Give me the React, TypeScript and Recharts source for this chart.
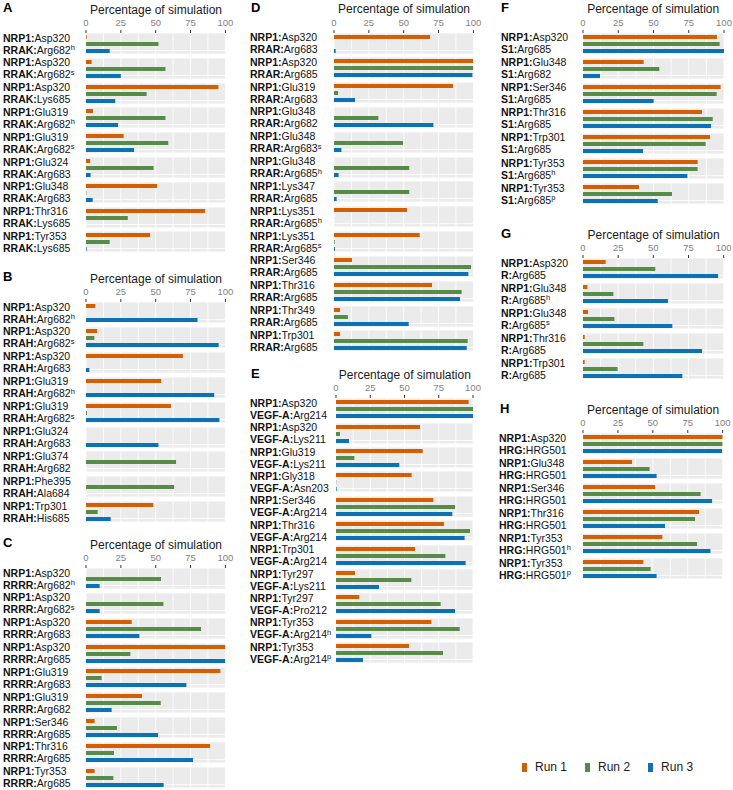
import React from 'react';
import { BarChart, Bar, Cell, XAxis, YAxis, CartesianGrid } from 'recharts';

const runNames = ['Run 1', 'Run 2', 'Run 3'];
const runColors = ['#d55e00', '#568c48', '#0b72b5'];
const axisTicks = [0, 25, 50, 75, 100];
const gridValues = [0, 12.5, 25, 37.5, 50, 62.5, 75, 87.5, 100];

// A: NRP1 - RRAK
const aNrp1 = ['Asp320', 'Asp320', 'Asp320', 'Glu319', 'Glu319', 'Glu324', 'Glu348', 'Thr316', 'Tyr353'];
const aPartner = ['Arg682^h', 'Arg682^s', 'Lys685', 'Arg682^h', 'Arg682^s', 'Arg683', 'Arg683', 'Lys685', 'Lys685'];
const aRun1 = [0.5, 4, 95, 5, 27, 3, 51, 85.5, 46];
const aRun2 = [52, 57, 43.5, 57, 59, 48.5, 0.3, 30, 17];
const aRun3 = [17, 25, 21, 23, 34.5, 3.3, 4.8, 0, 0.5];

// B: NRP1 - RRAH
const bNrp1 = ['Asp320', 'Asp320', 'Asp320', 'Glu319', 'Glu319', 'Glu324', 'Glu374', 'Phe395', 'Trp301'];
const bPartner = ['Arg682^h', 'Arg682^s', 'Arg683', 'Arg682^h', 'Arg682^s', 'Arg683', 'Arg682', 'Ala684', 'His685'];
const bRun1 = [6.7, 8, 69.5, 54, 61, 0, 0, 0, 48.3];
const bRun2 = [0, 6, 0, 0, 0.7, 0, 64.6, 63.2, 8.4];
const bRun3 = [80, 95.2, 2.4, 92, 95.7, 52, 0, 0, 17.7];

// C: NRP1 - RRRR
const cNrp1 = ['Asp320', 'Asp320', 'Asp320', 'Asp320', 'Glu319', 'Glu319', 'Ser346', 'Thr316', 'Tyr353'];
const cPartner = ['Arg682^h', 'Arg682^s', 'Arg683', 'Arg685', 'Arg683', 'Arg682', 'Arg685', 'Arg685', 'Arg685'];
const cRun1 = [0, 0, 32.8, 100, 96.4, 40.2, 6.2, 89, 6.2];
const cRun2 = [53.8, 55.5, 82.5, 31.8, 11.2, 53.6, 22.2, 20.1, 19.6];
const cRun3 = [9.8, 9.8, 38.3, 100, 72, 18.4, 51.7, 76.8, 55.7];

// D: NRP1 - RRAR
const dNrp1 = ['Asp320', 'Asp320', 'Glu319', 'Glu348', 'Glu348', 'Glu348', 'Lys347', 'Lys351', 'Lys351', 'Ser346', 'Thr316', 'Thr349', 'Trp301'];
const dPartner = ['Arg683', 'Arg685', 'Arg683', 'Arg682', 'Arg683^s', 'Arg685^h', 'Arg685', 'Arg685^h', 'Arg685^s', 'Arg685', 'Arg685', 'Arg685', 'Arg685'];
const dRun1 = [68.9, 100, 85.4, 0, 0, 0, 0, 52.4, 61.5, 12.9, 70.3, 4.3, 4.3];
const dRun2 = [0, 100, 2.9, 31.8, 49.5, 54, 54, 0, 0.5, 98.3, 91.6, 10, 95.9];
const dRun3 = [1.2, 99.3, 15.1, 71.3, 5.3, 3.3, 1.9, 0, 0.7, 96.4, 90.4, 53.6, 95.2];

// E: NRP1 - VEGF-A
const eNrp1 = ['Asp320', 'Asp320', 'Glu319', 'Gly318', 'Ser346', 'Thr316', 'Trp301', 'Tyr297', 'Tyr297', 'Tyr353', 'Tyr353'];
const ePartner = ['Arg214', 'Lys211', 'Lys211', 'Asn203', 'Arg214', 'Arg214', 'Arg214', 'Lys211', 'Pro212', 'Arg214^h', 'Arg214^p'];
const eRun1 = [96.8, 61.3, 63.3, 55.2, 71, 78.8, 57.7, 13.9, 17, 69.6, 53.3];
const eRun2 = [100, 2.9, 13.4, 0.2, 86.9, 97.8, 79.8, 55, 76.4, 90.3, 78.1];
const eRun3 = [100, 9.5, 46.2, 0.5, 84.9, 93.9, 94.6, 31.4, 86.9, 25.8, 19.7];

// F: NRP1 - S1
const fNrp1 = ['Asp320', 'Glu348', 'Ser346', 'Thr316', 'Trp301', 'Tyr353', 'Tyr353'];
const fPartner = ['Arg685', 'Arg682', 'Arg685', 'Arg685', 'Arg685', 'Arg685^h', 'Arg685^p'];
const fRun1 = [95, 43, 97.6, 84.4, 90.1, 81.3, 39.7];
const fRun2 = [96.9, 54.1, 94.8, 92, 87, 81.3, 63.1];
const fRun3 = [100, 12.1, 50.1, 90.8, 42.6, 74, 53];

// G: NRP1 - R
const gNrp1 = ['Asp320', 'Glu348', 'Glu348', 'Thr316', 'Trp301'];
const gPartner = ['Arg685', 'Arg685^h', 'Arg685^s', 'Arg685', 'Arg685'];
const gRun1 = [16.1, 3.1, 3.6, 1.2, 1.2];
const gRun2 = [51.4, 21.6, 22.3, 42.9, 24.6];
const gRun3 = [96, 60.4, 63.5, 84.6, 70.6];

// H: NRP1 - HRG
const hNrp1 = ['Asp320', 'Glu348', 'Ser346', 'Thr316', 'Tyr353', 'Tyr353'];
const hPartner = ['HRG501', 'HRG501', 'HRG501', 'HRG501', 'HRG501^h', 'HRG501^p'];
const hRun1 = [100, 35.1, 51.6, 83.1, 56.8, 43.2];
const hRun2 = [100, 47.7, 84.2, 80.2, 81.6, 48.4];
const hRun3 = [99.5, 52.7, 92.4, 58.7, 91.2, 52.7];

const FACET_H = 21;
const AXIS_H = 18;
const PAD = 8;
const font = '"Liberation Sans", Arial, sans-serif';

const panels = [
  { letter: 'A', partner: 'RRAK', nrp1: aNrp1, partners: aPartner, runs: [aRun1, aRun2, aRun3], letterX: 3, labelX: 3, plotX: 86.3, plotW: 139.4, top: 33, pitch: 24.8 },
  { letter: 'B', partner: 'RRAH', nrp1: bNrp1, partners: bPartner, runs: [bRun1, bRun2, bRun3], letterX: 3, labelX: 3, plotX: 86.3, plotW: 139.4, top: 302, pitch: 24.9 },
  { letter: 'C', partner: 'RRRR', nrp1: cNrp1, partners: cPartner, runs: [cRun1, cRun2, cRun3], letterX: 3, labelX: 3, plotX: 86.3, plotW: 139.4, top: 568, pitch: 24.85 },
  { letter: 'D', partner: 'RRAR', nrp1: dNrp1, partners: dPartner, runs: [dRun1, dRun2, dRun3], letterX: 251, labelX: 250, plotX: 334.3, plotW: 139.4, top: 32.5, pitch: 24.83 },
  { letter: 'E', partner: 'VEGF-A', nrp1: eNrp1, partners: ePartner, runs: [eRun1, eRun2, eRun3], letterX: 251, labelX: 250, plotX: 336.3, plotW: 137, top: 398.2, pitch: 24.4 },
  { letter: 'F', partner: 'S1', nrp1: fNrp1, partners: fPartner, runs: [fRun1, fRun2, fRun3], letterX: 501, labelX: 501, plotX: 582.7, plotW: 141, top: 32.5, pitch: 25.1 },
  { letter: 'G', partner: 'R', nrp1: gNrp1, partners: gPartner, runs: [gRun1, gRun2, gRun3], letterX: 501, labelX: 501, plotX: 583.3, plotW: 140.7, top: 258.2, pitch: 25 },
  { letter: 'H', partner: 'HRG', nrp1: hNrp1, partners: hPartner, runs: [hRun1, hRun2, hRun3], letterX: 500, labelX: 499, plotX: 583.3, plotW: 139.7, top: 433.2, pitch: 25 },
];

function Residue({ text }: { text: string }) {
  const [base, sup] = text.split('^');
  return (
    <>
      {base}
      {sup && <span style={{ fontSize: 7.5, position: 'relative', top: -3.5 }}>{sup}</span>}
    </>
  );
}

function Facet({ values, width, withAxis }: { values: number[]; width: number; withAxis: boolean }) {
  const rows = runNames.map((run, i) => ({ run, value: values[i] }));
  return (
    <BarChart
      width={width + PAD * 2}
      height={FACET_H + (withAxis ? AXIS_H : 0)}
      data={rows}
      layout="vertical"
      margin={{ top: 0, right: PAD, bottom: 0, left: PAD }}
    >
      <CartesianGrid fill="#ebebeb" fillOpacity={1} stroke="#ffffff" strokeWidth={0.8} verticalValues={gridValues} />
      <XAxis
        type="number"
        domain={[0, 100]}
        ticks={axisTicks}
        interval={0}
        orientation="top"
        hide={!withAxis}
        height={AXIS_H}
        axisLine={false}
        tickLine={{ stroke: '#333333', strokeWidth: 1 }}
        tickSize={3}
        tickMargin={4}
        tick={{ fill: '#7f7f7f', fontSize: 9.5 }}
        allowDataOverflow
      />
      <YAxis type="category" dataKey="run" hide />
      <Bar dataKey="value" barSize={4} isAnimationActive={false}>
        {rows.map((r, i) => (
          <Cell key={r.run} fill={runColors[i]} />
        ))}
      </Bar>
    </BarChart>
  );
}

function Panel({ p }: { p: (typeof panels)[number] }) {
  return (
    <>
      <div style={{ position: 'absolute', left: p.letterX, top: p.top - 24.7 - 8, lineHeight: '16px', fontSize: 13, fontWeight: 700 }}>
        {p.letter}
      </div>
      <div style={{ position: 'absolute', left: p.plotX - 20, width: p.plotW + 40, top: p.top - 23.2 - 8, lineHeight: '16px', fontSize: 12, textAlign: 'center', color: '#1a1a1a' }}>
        Percentage of simulation
      </div>
      {p.nrp1.map((res, i) => {
        const y = p.top + i * p.pitch;
        return (
          <React.Fragment key={i}>
            <div style={{ position: 'absolute', left: p.labelX, top: y - 1.5, fontSize: 10.5, lineHeight: '12px', whiteSpace: 'nowrap', color: '#111' }}>
              <div><b>NRP1:</b>{res}</div>
              <div><b>{p.partner}:</b><Residue text={p.partners[i]} /></div>
            </div>
            <div style={{ position: 'absolute', left: p.plotX - PAD, top: y - (i === 0 ? AXIS_H : 0) }}>
              <Facet values={p.runs.map((r) => r[i])} width={p.plotW} withAxis={i === 0} />
            </div>
          </React.Fragment>
        );
      })}
    </>
  );
}

export default function App() {
  return (
    <div style={{ position: 'absolute', left: 0, top: 0, width: 733, height: 790, background: '#fff', fontFamily: font, overflow: 'hidden' }}>
      {panels.map((p) => (
        <Panel key={p.letter} p={p} />
      ))}
      <div style={{ position: 'absolute', left: 522, top: 759, height: 16, display: 'flex', alignItems: 'center', fontSize: 12, color: '#1a1a1a' }}>
        {runNames.map((name, i) => (
          <div key={name} style={{ display: 'flex', alignItems: 'center', marginRight: 18 }}>
            <span style={{ display: 'inline-block', width: 5, height: 9, background: runColors[i], marginRight: 8 }} />
            <span>{name}</span>
          </div>
        ))}
      </div>
    </div>
  );
}
